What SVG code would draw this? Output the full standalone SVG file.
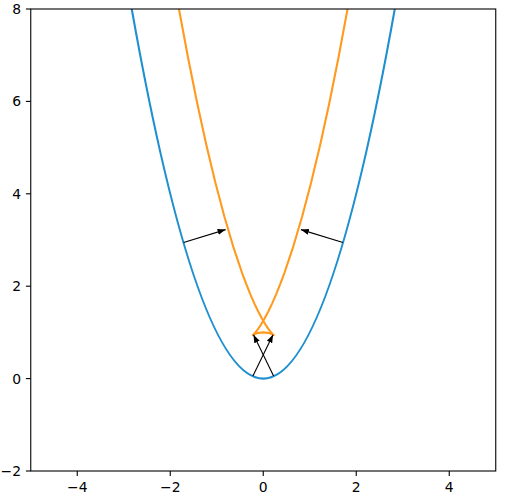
<svg xmlns="http://www.w3.org/2000/svg" width="506" height="504" viewBox="0 0 506 504">
<style>
.tick{stroke:#000;stroke-width:1.1}
.lbl{font-family:"DejaVu Sans",sans-serif;font-size:13.9px;fill:#000}
.xl{text-anchor:middle}
.yl{text-anchor:end}
.curve{fill:none;stroke-width:2.1;vector-effect:non-scaling-stroke;stroke-linejoin:round}
.arr{stroke:#000;stroke-width:1.1;fill:none}
</style>
<defs>
<clipPath id="plot"><rect x="30.75" y="9" width="465" height="462"/></clipPath>
<marker id="ah" viewBox="0 0 8 6" refX="8" refY="3" markerWidth="8" markerHeight="6" orient="auto" markerUnits="userSpaceOnUse"><path d="M0,0 L8,3 L0,6 z" fill="#000"/></marker>
</defs>
<rect width="506" height="504" fill="#fff"/>
<g id="curves" clip-path="url(#plot)">
<g transform="matrix(46.5 0 0 -46.2 263.25 378.6)">
<path id="blue" class="curve" stroke="#1e90d0" d="M-3,9 Q0,-9 3,9"/>
<polyline id="orange" class="curve" stroke="#ff9a1f" points="-2.0136,9.1644 -1.8156,8.0158 -1.6180,6.9489 -1.4210,5.9640 -1.2249,5.0616 -1.0299,4.2425 -0.8365,3.5076 -0.6455,2.8583 -0.4583,2.2963 -0.3667,2.0490 -0.2769,1.8246 -0.1896,1.6238 -0.1056,1.4472 -0.0258,1.2956 0.0480,1.1700 0.1137,1.0712 0.1682,1.0002 0.2071,0.9571 0.2190,0.9458 0.2247,0.9409 0.2251,0.9406 0.2235,0.9417 0.2145,0.9475 0.1972,0.9569 0.1713,0.9685 0.1374,0.9803 0.0961,0.9906 0,1 -0.0961,0.9906 -0.1374,0.9803 -0.1713,0.9685 -0.1972,0.9569 -0.2145,0.9475 -0.2235,0.9417 -0.2251,0.9406 -0.2247,0.9409 -0.2190,0.9458 -0.2071,0.9571 -0.1682,1.0002 -0.1137,1.0712 -0.0480,1.1700 0.0258,1.2956 0.1056,1.4472 0.1896,1.6238 0.2769,1.8246 0.3667,2.0490 0.4583,2.2963 0.6455,2.8583 0.8365,3.5076 1.0299,4.2425 1.2249,5.0616 1.4210,5.9640 1.6180,6.9489 1.8156,8.0158 2.0136,9.1644"/>
</g>
</g>
<g id="connectors">
<line class="arr" x1="183.6" y1="242.5" x2="225.6" y2="229.6" marker-end="url(#ah)"/>
<line class="arr" x1="342.9" y1="242.5" x2="300.9" y2="229.6" marker-end="url(#ah)"/>
<line class="arr" x1="273.6" y1="376" x2="253.5" y2="334.8" marker-end="url(#ah)"/>
<line class="arr" x1="252.9" y1="376" x2="273.0" y2="334.8" marker-end="url(#ah)"/>
</g>
<g id="axes">
<rect x="30.75" y="9" width="465" height="462" fill="none" stroke="#000" stroke-width="1.1"/>
<g class="tick">
<line x1="77.25" y1="471" x2="77.25" y2="475.9"/>
<line x1="170.25" y1="471" x2="170.25" y2="475.9"/>
<line x1="263.25" y1="471" x2="263.25" y2="475.9"/>
<line x1="356.25" y1="471" x2="356.25" y2="475.9"/>
<line x1="449.25" y1="471" x2="449.25" y2="475.9"/>
<line x1="30.75" y1="471" x2="25.9" y2="471"/>
<line x1="30.75" y1="378.6" x2="25.9" y2="378.6"/>
<line x1="30.75" y1="286.2" x2="25.9" y2="286.2"/>
<line x1="30.75" y1="193.8" x2="25.9" y2="193.8"/>
<line x1="30.75" y1="101.4" x2="25.9" y2="101.4"/>
<line x1="30.75" y1="9" x2="25.9" y2="9"/>
</g>
<text class="lbl xl" x="77.25" y="491.5">−4</text>
<text class="lbl xl" x="170.25" y="491.5">−2</text>
<text class="lbl xl" x="263.25" y="491.5">0</text>
<text class="lbl xl" x="356.25" y="491.5">2</text>
<text class="lbl xl" x="449.25" y="491.5">4</text>
<text class="lbl yl" x="21" y="476">−2</text>
<text class="lbl yl" x="21" y="383.6">0</text>
<text class="lbl yl" x="21" y="291.2">2</text>
<text class="lbl yl" x="21" y="198.8">4</text>
<text class="lbl yl" x="21" y="106.4">6</text>
<text class="lbl yl" x="21" y="14">8</text>
</g>
</svg>
